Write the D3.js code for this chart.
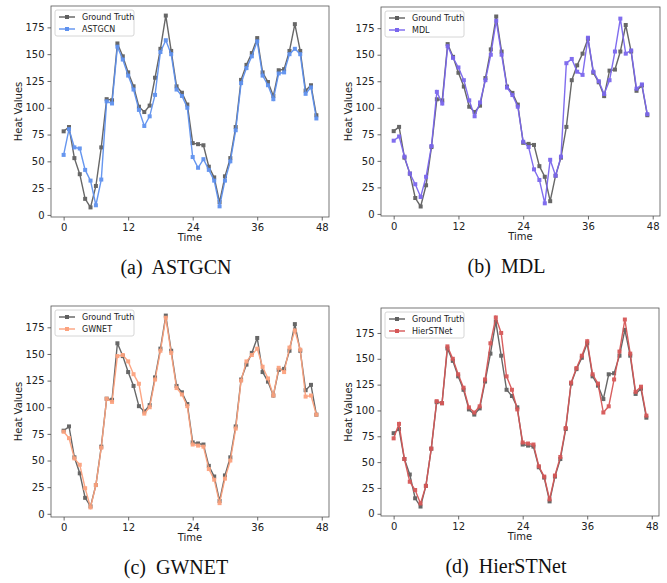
<!DOCTYPE html>
<html>
<head>
<meta charset="utf-8">
<script src="https://cdn.jsdelivr.net/npm/d3@7"></script>
<style>
body { margin: 0; background: #fff; }
svg { display: block; }
.caption { white-space: pre; }
</style>
</head>
<body>
<div id="chart"></div>
<script>
// values
var groundTruth = [78, 82, 53, 38, 15, 7, 27, 63, 108, 107, 160, 148, 133, 120, 101, 96,
	102, 128, 155, 186, 153, 120, 114, 103, 67, 66, 65, 45, 35, 12, 36, 53,
	82, 126, 140, 151, 165, 133, 124, 111, 135, 136, 153, 178, 153, 116, 121, 93];
var astgcn = [56, 80, 63, 62, 42, 32, 9, 33, 106, 104, 157, 145, 130, 117, 98, 83,
	92, 112, 152, 163, 150, 117, 111, 100, 54, 44, 52, 42, 32, 8, 32, 50,
	79, 123, 137, 148, 162, 130, 121, 108, 132, 133, 150, 155, 150, 113, 119, 90];
var mdl = [69, 73, 54, 38, 28, 16, 35, 64, 115, 104, 158, 147, 138, 126, 107, 92,
	105, 126, 150, 182, 150, 119, 112, 101, 68, 63, 42, 32, 10, 51, 36, 54,
	142, 146, 134, 131, 166, 134, 125, 113, 126, 153, 184, 151, 154, 118, 122, 94];
var gwnet = [77, 71, 52, 46, 24, 6, 27, 62, 108, 105, 148, 149, 143, 131, 122, 94,
	100, 126, 153, 184, 151, 118, 112, 101, 65, 64, 63, 42, 32, 10, 33, 50,
	80, 125, 143, 149, 155, 138, 127, 111, 137, 133, 156, 172, 154, 110, 111, 93];
var hierstnet = [73, 87, 53, 31, 23, 10, 27, 63, 109, 107, 162, 150, 135, 122, 103, 98,
	104, 130, 165, 190, 175, 133, 120, 101, 69, 68, 67, 46, 36, 14, 37, 55,
	83, 127, 141, 153, 167, 135, 126, 98, 104, 130, 157, 188, 155, 118, 123, 95];

var xTicks = [0, 12, 24, 36, 48];
var yTicks = [0, 25, 50, 75, 100, 125, 150, 175];

var panels = [
	{name: 'ASTGCN', caption: '(a)  ASTGCN', values: astgcn, color: '#5e91ef',
		left: 51, right: 329, top: 6, bottom: 217},
	{name: 'MDL', caption: '(b)  MDL', values: mdl, color: '#7a66ee',
		left: 381, right: 660, top: 7, bottom: 216},
	{name: 'GWNET', caption: '(c)  GWNET', values: gwnet, color: '#fca27e',
		left: 51, right: 329, top: 306, bottom: 517},
	{name: 'HierSTNet', caption: '(d)  HierSTNet', values: hierstnet, color: '#d65757',
		left: 381, right: 659, top: 308, bottom: 516}
];

var width = 667;
var height = 583;
var gtColor = '#5f5f5f';

var svg = d3.select('#chart')
	.append('svg')
	.attr('width', width)
	.attr('height', height);

panels.forEach(function(p){
	var all = groundTruth.concat(p.values);
	var lo = d3.min(all), hi = d3.max(all);
	var pad = (hi - lo) * 0.05;

	var x = d3.scaleLinear()
		.domain([-2.35, 49.35])
		.range([p.left, p.right]);
	var y = d3.scaleLinear()
		.domain([lo - pad, hi + pad])
		.range([p.bottom, p.top]);

	var g = svg.append('g');

	var xAxis = g.append('g')
		.attr('transform', 'translate(0,' + p.bottom + ')')
		.call(d3.axisBottom(x).tickValues(xTicks).tickSize(3.5).tickPadding(3));
	var yAxis = g.append('g')
		.attr('transform', 'translate(' + p.left + ',0)')
		.call(d3.axisLeft(y).tickValues(yTicks).tickSize(3.5).tickPadding(3));

	[xAxis, yAxis].forEach(function(a){
		a.select('.domain').remove();
		a.selectAll('line').attr('stroke', '#444').attr('stroke-width', 0.8);
		a.selectAll('text')
			.attr('fill', '#222')
			.style('font-family', 'DejaVu Sans, sans-serif')
			.style('font-size', '10px');
	});

	g.append('rect')
		.attr('x', p.left)
		.attr('y', p.top)
		.attr('width', p.right - p.left)
		.attr('height', p.bottom - p.top)
		.attr('fill', 'none')
		.attr('stroke', '#555')
		.attr('stroke-width', 0.8);

	g.append('text')
		.attr('x', (p.left + p.right) / 2)
		.attr('y', p.bottom + 24)
		.attr('text-anchor', 'middle')
		.style('font-family', 'DejaVu Sans, sans-serif')
		.style('font-size', '10px')
		.attr('fill', '#222')
		.text('Time');

	g.append('text')
		.attr('transform', 'translate(' + (p.left - 29) + ',' + ((p.top + p.bottom) / 2) + ') rotate(-90)')
		.attr('text-anchor', 'middle')
		.style('font-family', 'DejaVu Sans, sans-serif')
		.style('font-size', '10px')
		.attr('fill', '#222')
		.text('Heat Values');

	var line = d3.line()
		.x(function(d, i){ return x(i); })
		.y(function(d){ return y(d); });

	var series = [
		{values: groundTruth, color: gtColor, label: 'Ground Truth'},
		{values: p.values, color: p.color, label: p.name}
	];

	series.forEach(function(s){
		var sg = g.append('g').attr('opacity', 0.95);
		sg.append('path')
			.datum(s.values)
			.attr('d', line)
			.attr('fill', 'none')
			.attr('stroke', s.color)
			.attr('stroke-width', 1.4);
		sg.selectAll('rect')
			.data(s.values)
			.enter()
			.append('rect')
			.attr('x', function(d, i){ return x(i) - 2; })
			.attr('y', function(d){ return y(d) - 2; })
			.attr('width', 4)
			.attr('height', 4)
			.attr('fill', s.color);
	});

	// legend
	var lg = g.append('g')
		.attr('transform', 'translate(' + (p.left + 4) + ',' + (p.top + 4) + ')');
	lg.append('rect')
		.attr('width', 79)
		.attr('height', 26)
		.attr('rx', 2)
		.attr('fill', '#fff')
		.attr('fill-opacity', 0.8)
		.attr('stroke', '#ccc')
		.attr('stroke-width', 0.8);
	series.forEach(function(s, i){
		var ly = 7 + i * 12;
		lg.append('line')
			.attr('x1', 4).attr('x2', 20)
			.attr('y1', ly).attr('y2', ly)
			.attr('stroke', s.color)
			.attr('stroke-width', 1.4);
		lg.append('rect')
			.attr('x', 10).attr('y', ly - 2)
			.attr('width', 4).attr('height', 4)
			.attr('fill', s.color);
		lg.append('text')
			.attr('x', 27)
			.attr('y', ly + 3)
			.style('font-family', 'DejaVu Sans, sans-serif')
			.style('font-size', '8px')
			.attr('fill', '#222')
			.text(s.label);
	});

	svg.append('text')
		.attr('class', 'caption')
		.attr('x', (p.left + p.right) / 2 - 14)
		.attr('y', p.bottom + 57)
		.attr('text-anchor', 'middle')
		.style('font-family', 'Liberation Serif, Times New Roman, serif')
		.style('font-size', '20px')
		.attr('fill', '#111')
		.text(p.caption);
});
</script>
</body>
</html>
